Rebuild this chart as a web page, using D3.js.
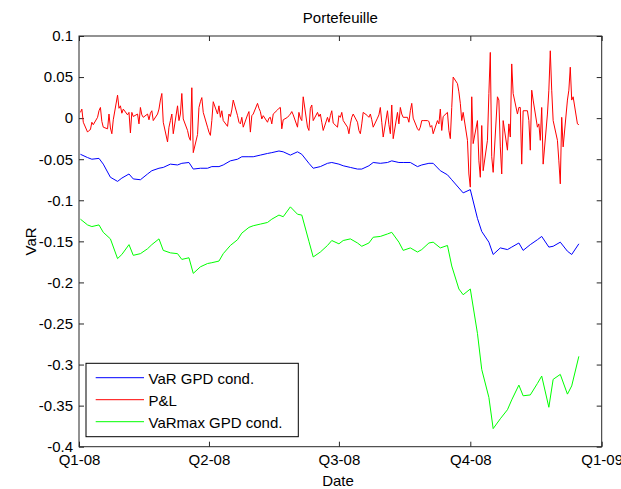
<!DOCTYPE html>
<html><head><meta charset="utf-8">
<script src="https://cdn.jsdelivr.net/npm/d3@7"></script>
<style>
body{margin:0;background:#fff}
svg text{font-family:"Liberation Sans",Arial,Helvetica,sans-serif;fill:#000}
</style>
</head><body>
<svg id="c" width="621" height="489"></svg>
<script>
const title = "Portefeuille";
const xLabel = "Date";
const yLabel = "VaR";
const seriesNames = ["VaR GPD cond.", "P&L", "VaRmax GPD cond."];
const seriesColors = ["#0000ff", "#ff0000", "#00ff00"];
const startDate = "2008-01-02";
const xDomain = ["2008-01-01", "2009-01-01"];
const xTickDates = ["2008-01-01", "2008-04-01", "2008-07-01", "2008-10-01", "2009-01-01"];
const xTickLabels = ["Q1-08", "Q2-08", "Q3-08", "Q4-08", "Q1-09"];
const yTicks = [0.1, 0.05, 0, -0.05, -0.1, -0.15, -0.2, -0.25, -0.3, -0.35, -0.4];
const yTickLabels = ["0.1", "0.05", "0", "-0.05", "-0.1", "-0.15", "-0.2", "-0.25", "-0.3", "-0.35", "-0.4"];

// daily P&L (business days)
const pnl = [
 0.007, 0.011, -0.005, -0.017, -0.015, -0.014, -0.005, -0.008, 0.001, 0.009,
 0.013, -0.004, -0.011, -0.013, 0.005, -0.012, -0.019, -0.002, 0.028, 0.012,
 0.015, 0.006, 0.011, 0.004, 0.007, -0.018,
 0.007, 0.002, 0.005, -0.007, 0.013, 0.004, 0.001, 0.005, -0.002, 0.006,
 0.009, -0.003, 0.005, 0.011, 0.022, 0.030, -0.005, -0.029, -0.011, -0.003,
 0.005, -0.019, 0.015, -0.003, 0.005, 0.030, -0.001, -0.015, -0.023, -0.027,
 0.037, -0.042, -0.020, 0.013, 0.020, 0.025, 0.007, -0.011, -0.017, -0.021,
 -0.003, 0.020, 0.005, 0.015, 0.001, 0.009, -0.003, -0.010, 0.005, 0.002,
 0.010, 0.022, 0.003, -0.005, -0.007, 0.001, -0.011, 0.004, 0.008, -0.017,
 0.003, 0.005, 0.018, 0.012, 0.008, -0.001, 0.003, -0.005, 0.000, 0.001,
 -0.007, 0.005, 0.010, 0.012, 0.013, -0.013, -0.002, 0.001, 0.003, 0.005,
 0.008, 0.004, -0.011, 0.007, 0.000, -0.003, 0.026, -0.011, -0.015, 0.012,
 0.016, -0.003, 0.007, 0.002, 0.005, -0.005, -0.015, 0.001, -0.005, 0.003,
 0.009, -0.006, -0.011, 0.003, 0.001, 0.007, -0.003, -0.011, -0.019, -0.007,
 0.001, 0.005, -0.005, -0.015, -0.019, -0.007, 0.007, 0.003, 0.001, 0.005,
 -0.002, -0.011, 0.000, 0.004, 0.013, -0.005, -0.023, 0.009, -0.008, -0.019,
 0.016, -0.025, 0.007, -0.007, 0.013, 0.005, 0.001, 0.001, -0.005, 0.009,
 0.018, 0.000, -0.013, -0.015, -0.011,
 -0.003, -0.003, -0.003, -0.004, -0.011, -0.009, -0.019, -0.003, -0.007,
 0.011, -0.015, 0.002, 0.007, -0.015, -0.025, 0.013, 0.050, 0.042, 0.032,
 0.018, -0.003, 0.007, -0.027, -0.068, -0.084, 0.026, -0.031, -0.003, -0.052,
 -0.072, -0.009, -0.064, -0.027, 0.030, 0.080, -0.047, -0.066, 0.026, 0.022,
 -0.035, -0.068, -0.003, -0.039, -0.007, -0.023, 0.066, 0.030, 0.005, 0.013,
 0.013, -0.056, 0.009, 0.009, -0.003, -0.039, 0.034, 0.022, -0.011, -0.007,
 -0.027, 0.013, -0.056, 0.005, 0.034, 0.082, 0.034, -0.003, -0.027, -0.052,
 -0.080, 0.001, -0.035, 0.022, 0.034, 0.062, 0.022, 0.026, -0.007, -0.008
];

// VaR series, one value every 3 business days
const varStep = 3;
const varGPD = [
 -0.044, -0.048, -0.050, -0.049, -0.056, -0.072, -0.077, -0.073, -0.068, -0.074,
 -0.075, -0.068, -0.064, -0.061, -0.060, -0.056, -0.057, -0.055, -0.054, -0.062,
 -0.061, -0.061, -0.059, -0.059, -0.057, -0.052, -0.050, -0.047, -0.047, -0.047,
 -0.045, -0.043, -0.042, -0.040, -0.041, -0.045, -0.041, -0.044, -0.055, -0.061,
 -0.059, -0.055, -0.054, -0.056, -0.058, -0.060, -0.062, -0.062, -0.058, -0.054,
 -0.055, -0.054, -0.052, -0.054, -0.054, -0.054, -0.059, -0.057, -0.055, -0.055,
 -0.064, -0.069, -0.075, -0.085, -0.091, -0.087, -0.122, -0.138, -0.151, -0.166,
 -0.158, -0.160, -0.157, -0.152, -0.161, -0.154, -0.148, -0.144, -0.157, -0.156,
 -0.151, -0.162, -0.166, -0.153
];
const varMax = [
 -0.123, -0.130, -0.132, -0.130, -0.139, -0.147, -0.171, -0.166, -0.154, -0.167,
 -0.165, -0.159, -0.154, -0.147, -0.161, -0.164, -0.165, -0.172, -0.170, -0.189,
 -0.181, -0.177, -0.176, -0.174, -0.165, -0.155, -0.148, -0.140, -0.133, -0.131,
 -0.129, -0.127, -0.123, -0.118, -0.120, -0.108, -0.117, -0.118, -0.150, -0.169,
 -0.163, -0.155, -0.149, -0.153, -0.149, -0.147, -0.152, -0.156, -0.152, -0.145,
 -0.144, -0.141, -0.139, -0.151, -0.161, -0.158, -0.163, -0.160, -0.152, -0.151,
 -0.158, -0.155, -0.180, -0.208, -0.215, -0.208, -0.262, -0.306, -0.340, -0.378,
 -0.366, -0.355, -0.343, -0.325, -0.338, -0.337, -0.323, -0.314, -0.352, -0.318,
 -0.312, -0.336, -0.326, -0.290
];

const parse = d3.timeParse("%Y-%m-%d");
const days = [];
for (let d = parse(startDate); days.length < pnl.length; d = d3.timeDay.offset(d, 1)) {
  if (d.getDay() !== 0 && d.getDay() !== 6) days.push(d);
}

const L = 79, R = 601.7, T = 36, B = 446.7;
const FS = 15;
const svg = d3.select("#c");
const x = d3.scaleTime().domain(xDomain.map(parse)).range([L, R]);
const y = d3.scaleLinear().domain([-0.4, 0.1]).range([B, T]);

const tickDates = xTickDates.map(parse);
function styleAxis(g) {
  g.select(".domain").remove();
  g.selectAll("line").attr("stroke", "#262626").attr("stroke-width", 1);
  g.selectAll("text").attr("font-size", FS).attr("fill", "#000");
}
svg.append("g").attr("transform", `translate(0,${B})`)
  .call(d3.axisBottom(x).tickValues(tickDates).tickFormat((d, i) => xTickLabels[i]).tickSizeInner(-5).tickSizeOuter(0).tickPadding(7.5))
  .call(styleAxis).attr("font-family", null);
svg.append("g").attr("transform", `translate(0,${T})`)
  .call(d3.axisTop(x).tickValues(tickDates).tickFormat("").tickSizeInner(-5).tickSizeOuter(0))
  .call(styleAxis);
svg.append("g").attr("transform", `translate(${L},0)`)
  .call(d3.axisLeft(y).tickValues(yTicks).tickFormat((d, i) => yTickLabels[i]).tickSizeInner(-5).tickSizeOuter(0).tickPadding(6))
  .call(styleAxis).attr("font-family", null);
svg.append("g").attr("transform", `translate(${R},0)`)
  .call(d3.axisRight(y).tickValues(yTicks).tickFormat("").tickSizeInner(-5).tickSizeOuter(0))
  .call(styleAxis);

svg.append("rect").attr("x", L).attr("y", T).attr("width", R - L).attr("height", B - T)
  .attr("fill", "none").attr("stroke", "#262626").attr("stroke-width", 1);

const line = d3.line().x(d => x(d.date)).y(d => y(d.v));
const series = [
  varGPD.map((v, j) => ({date: days[j * varStep], v})),
  pnl.map((v, i) => ({date: days[i], v})),
  varMax.map((v, j) => ({date: days[j * varStep], v}))
];
series.forEach((s, k) => {
  svg.append("path").datum(s).attr("d", line).attr("fill", "none")
    .attr("stroke", seriesColors[k]).attr("stroke-width", 1);
});

svg.append("text").attr("x", (L + R) / 2).attr("y", 23).attr("text-anchor", "middle")
  .attr("font-size", FS).text(title);
svg.append("text").attr("x", 338).attr("y", 486).attr("text-anchor", "middle")
  .attr("font-size", FS).text(xLabel);
svg.append("text").attr("transform", `translate(36,${(T + B) / 2}) rotate(-90)`)
  .attr("text-anchor", "middle").attr("font-size", FS).text(yLabel);

// legend
const lg = svg.append("g");
lg.append("rect").attr("x", 86).attr("y", 363.3).attr("width", 212.3).attr("height", 73.4)
  .attr("fill", "#fff").attr("stroke", "#000").attr("stroke-width", 1);
seriesNames.forEach((n, k) => {
  const yy = 377.7 + k * 22;
  lg.append("line").attr("x1", 95.7).attr("x2", 144).attr("y1", yy).attr("y2", yy)
    .attr("stroke", seriesColors[k]).attr("stroke-width", 1);
  lg.append("text").attr("x", 148.5).attr("y", yy + 6).attr("font-size", FS).text(n);
});
</script>
</body></html>
